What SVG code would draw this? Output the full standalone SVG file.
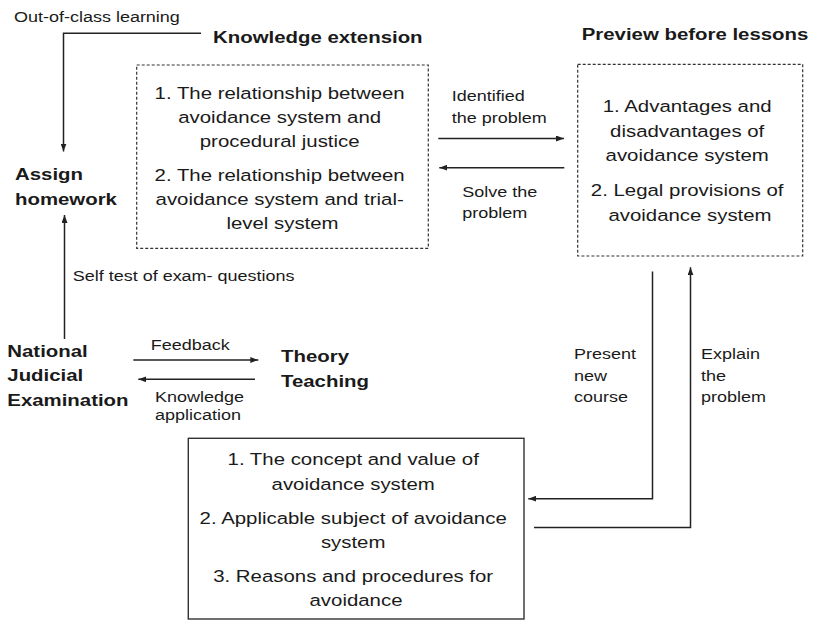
<svg xmlns="http://www.w3.org/2000/svg" width="813" height="620" viewBox="0 0 813 620">
  <defs>
    <style>
      text { font-family: "Liberation Sans", Arial, sans-serif; fill: #1a1a1a; }
      .head { font-size: 17px; font-weight: bold; }
      .body { font-size: 17px; }
      .lbl { font-size: 15px; }
      .dash { fill: none; stroke: #333; stroke-width: 1.2; stroke-dasharray: 3 2; }
      .solid { fill: none; stroke: #333; stroke-width: 1.4; }
      .link { fill: none; stroke: #222; stroke-width: 1.5; }
    </style>
    <marker id="arrow" viewBox="0 0 8 6" refX="8" refY="3" markerWidth="8" markerHeight="6" markerUnits="userSpaceOnUse" orient="auto">
      <path d="M0,0 L8,3 L0,6 z" fill="#222"/>
    </marker>
  </defs>

  <!-- Knowledge extension -->
  <g id="knowledge-extension">
    <g transform="translate(213,0) scale(1.2,1)"><text class="head" x="0" y="43">Knowledge extension</text></g>
    <rect class="dash" x="136.7" y="65" width="291.6" height="183.3"/>
    <g transform="translate(282.5,0) scale(1.2,1)">
      <text class="body" text-anchor="middle">
        <tspan x="0" y="99">1. The relationship between</tspan>
        <tspan x="0" y="123">avoidance system and</tspan>
        <tspan x="0" y="147">procedural justice</tspan>
        <tspan x="0" y="181">2. The relationship between</tspan>
        <tspan x="0" y="205">avoidance system and trial-</tspan>
        <tspan x="0" y="229">level system</tspan>
      </text>
    </g>
  </g>

  <!-- Preview before lessons -->
  <g id="preview">
    <g transform="translate(581.7,0) scale(1.2,1)"><text class="head" x="0" y="40">Preview before lessons</text></g>
    <rect class="dash" x="577.7" y="64.3" width="225" height="191.7"/>
    <g transform="translate(690,0) scale(1.2,1)">
      <text class="body" text-anchor="middle">
        <tspan x="0" y="112.5">1. Advantages and</tspan>
        <tspan x="0" y="137">disadvantages of</tspan>
        <tspan x="0" y="161.5">avoidance system</tspan>
        <tspan x="0" y="196.5">2. Legal provisions of</tspan>
        <tspan x="0" y="221">avoidance system</tspan>
      </text>
    </g>
  </g>

  <!-- Assign homework -->
  <g id="assign-homework">
    <g transform="translate(15,0) scale(1.2,1)">
      <text class="head"><tspan x="0" y="180">Assign</tspan><tspan x="0" y="205">homework</tspan></text>
    </g>
  </g>

  <!-- National Judicial Examination -->
  <g id="exam">
    <g transform="translate(7.3,0) scale(1.2,1)">
      <text class="head"><tspan x="0" y="357">National</tspan><tspan x="0" y="381">Judicial</tspan><tspan x="0" y="406">Examination</tspan></text>
    </g>
  </g>

  <!-- Theory Teaching -->
  <g id="theory-teaching">
    <g transform="translate(281,0) scale(1.2,1)">
      <text class="head"><tspan x="0" y="362">Theory</tspan><tspan x="0" y="387">Teaching</tspan></text>
    </g>
  </g>

  <!-- Course content -->
  <g id="course-content">
    <rect class="solid" x="188.3" y="438.3" width="335.7" height="180.7"/>
    <g transform="translate(356,0) scale(1.2,1)">
      <text class="body" text-anchor="middle">
        <tspan x="0" y="465">1. The concept and value of</tspan>
        <tspan x="0" y="490">avoidance system</tspan>
        <tspan x="0" y="524">2. Applicable subject of avoidance</tspan>
        <tspan x="0" y="548.5">system</tspan>
        <tspan x="0" y="582">3. Reasons and procedures for</tspan>
        <tspan x="0" y="606.5">avoidance</tspan>
      </text>
    </g>
  </g>

  <!-- Connectors -->
  <g id="connectors">
    <path class="link" d="M201,33.3 H63.5 V151.5" marker-end="url(#arrow)"/>
    <path class="link" d="M64.5,339 V215" marker-end="url(#arrow)"/>
    <path class="link" d="M438.3,138.5 H564" marker-end="url(#arrow)"/>
    <path class="link" d="M564.3,167.7 H439.3" marker-end="url(#arrow)"/>
    <path class="link" d="M133.3,360 H258.3" marker-end="url(#arrow)"/>
    <path class="link" d="M255,379.3 H138.3" marker-end="url(#arrow)"/>
    <path class="link" d="M652.5,271.5 V498.7 H528.3" marker-end="url(#arrow)"/>
    <path class="link" d="M534,527.6 H690.5 V267.3" marker-end="url(#arrow)"/>
  </g>

  <!-- Connector labels -->
  <g id="labels">
    <g transform="translate(14,0) scale(1.2,1)"><text class="lbl" x="0" y="22.5">Out-of-class learning</text></g>
    <g transform="translate(72.7,0) scale(1.2,1)"><text class="lbl" x="0" y="281.5">Self test of exam- questions</text></g>
    <g transform="translate(451.7,0) scale(1.2,1)">
      <text class="lbl"><tspan x="0" y="101">Identified</tspan><tspan x="0" y="122.7">the problem</tspan></text>
    </g>
    <g transform="translate(462.3,0) scale(1.2,1)">
      <text class="lbl"><tspan x="0" y="196.7">Solve the</tspan><tspan x="0" y="218.3">problem</tspan></text>
    </g>
    <g transform="translate(150.7,0) scale(1.2,1)"><text class="lbl" x="0" y="350">Feedback</text></g>
    <g transform="translate(155,0) scale(1.2,1)">
      <text class="lbl"><tspan x="0" y="401.7">Knowledge</tspan><tspan x="0" y="420.3">application</tspan></text>
    </g>
    <g transform="translate(574,0) scale(1.2,1)">
      <text class="lbl"><tspan x="0" y="359">Present</tspan><tspan x="0" y="380.7">new</tspan><tspan x="0" y="402.3">course</tspan></text>
    </g>
    <g transform="translate(701,0) scale(1.2,1)">
      <text class="lbl"><tspan x="0" y="359">Explain</tspan><tspan x="0" y="380.7">the</tspan><tspan x="0" y="402.3">problem</tspan></text>
    </g>
  </g>
</svg>
